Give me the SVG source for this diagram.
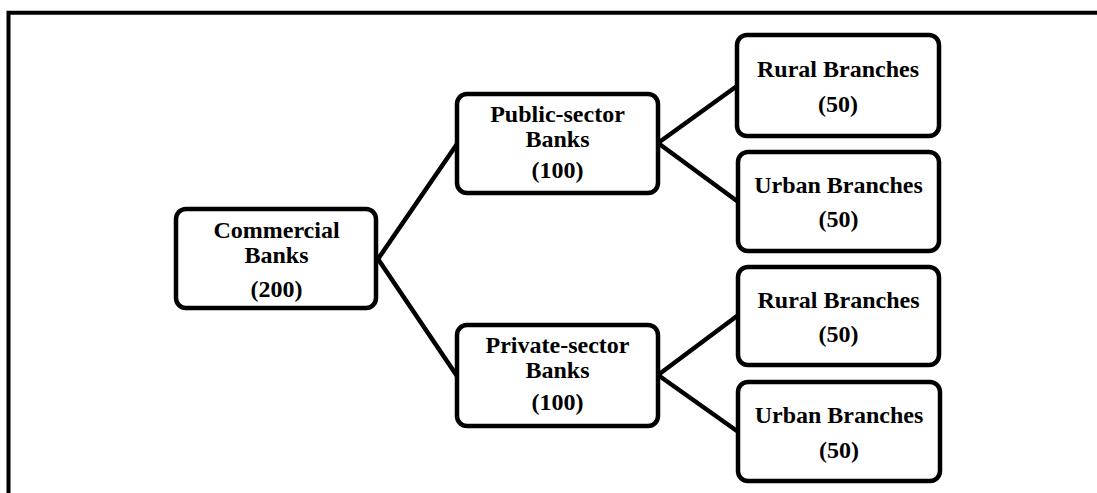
<svg xmlns="http://www.w3.org/2000/svg" width="1097" height="493" viewBox="0 0 1097 493">
  <style>
    .box { fill: #ffffff; stroke: #000000; stroke-width: 4.5; }
    .link { stroke: #000000; stroke-width: 4.5; fill: none; stroke-linecap: round; }
    .frame { stroke: #000000; stroke-width: 4; fill: none; }
    text { font-family: "Liberation Serif", "Times New Roman", serif; font-weight: bold; font-size: 24px; fill: #000000; text-anchor: middle; }
  </style>
  <rect x="0" y="0" width="1097" height="493" fill="#ffffff"/>

  <!-- open frame: left and top edges only -->
  <path class="frame" d="M8.5,493 V12.7 H1097"/>

  <!-- connectors -->
  <g id="connectors">
    <line class="link" x1="378" y1="259" x2="457" y2="144"/>
    <line class="link" x1="378" y1="259" x2="457" y2="376"/>
    <line class="link" x1="658" y1="143" x2="737" y2="86"/>
    <line class="link" x1="658" y1="143" x2="737" y2="201"/>
    <line class="link" x1="658" y1="375" x2="737" y2="316"/>
    <line class="link" x1="658" y1="375" x2="737" y2="431"/>
  </g>

  <g id="commercial-banks">
    <rect class="box" x="176" y="209" width="200" height="99" rx="10"/>
    <text x="276.5" y="238">Commercial</text>
    <text x="276.5" y="263">Banks</text>
    <text x="276.5" y="297">(200)</text>
  </g>

  <g id="public-sector-banks">
    <rect class="box" x="457" y="94" width="201" height="99" rx="10"/>
    <text x="557.5" y="122">Public-sector</text>
    <text x="557.5" y="147">Banks</text>
    <text x="557.5" y="178">(100)</text>
  </g>

  <g id="private-sector-banks">
    <rect class="box" x="457" y="325" width="201" height="101" rx="10"/>
    <text x="557.5" y="353">Private-sector</text>
    <text x="557.5" y="378">Banks</text>
    <text x="557.5" y="410">(100)</text>
  </g>

  <g id="public-rural-branches">
    <rect class="box" x="737" y="35" width="202" height="101" rx="10"/>
    <text x="838" y="77">Rural Branches</text>
    <text x="838" y="112">(50)</text>
  </g>

  <g id="public-urban-branches">
    <rect class="box" x="738" y="152" width="201" height="99" rx="10"/>
    <text x="838.5" y="193">Urban Branches</text>
    <text x="838.5" y="227">(50)</text>
  </g>

  <g id="private-rural-branches">
    <rect class="box" x="738" y="267" width="201" height="98" rx="10"/>
    <text x="838.5" y="308">Rural Branches</text>
    <text x="838.5" y="342">(50)</text>
  </g>

  <g id="private-urban-branches">
    <rect class="box" x="738" y="382" width="202" height="99" rx="10"/>
    <text x="839" y="423">Urban Branches</text>
    <text x="839" y="458">(50)</text>
  </g>
</svg>
